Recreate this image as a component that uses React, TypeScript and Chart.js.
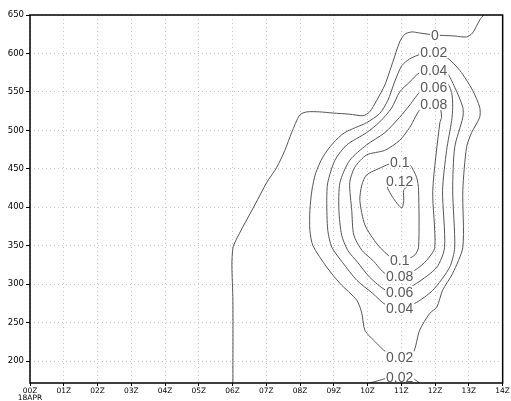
import React, { useEffect, useRef } from "react";
import { Chart, registerables } from "chart.js";

Chart.register(...registerables);

// x axis: hours after 00Z 18APR
const hourTicks = [0, 1, 2, 3, 4, 5, 6, 7, 8, 9, 10, 11, 12, 13, 14];
const hourLabels = ["00Z", "01Z", "02Z", "03Z", "04Z", "05Z", "06Z", "07Z", "08Z", "09Z", "10Z", "11Z", "12Z", "13Z", "14Z"];
const dateLabel = "18APR";
const yTicks = [200, 250, 300, 350, 400, 450, 500, 550, 600, 650];
const yMin = 171.4;
const yMax = 650;

// contour lines: [hour, value]
const contour0: [number, number][] = [
  [6.01, 171.4], [6.01, 279], [5.98, 325], [6.01, 347], [6.1, 357], [6.3, 374], [6.66, 403], [7.01, 432],
  [7.31, 452], [7.55, 474], [7.75, 497], [7.99, 520], [8.2, 524], [8.58, 524], [8.97, 522.5], [9.47, 521],
  [9.86, 519], [10.06, 524], [10.27, 539], [10.51, 559], [10.74, 588], [10.95, 615], [11.1, 625], [11.31, 628],
  [11.54, 626.6], [11.99, 624], [12.58, 622.7], [12.93, 621.4], [13.11, 626.6], [13.32, 643.5], [13.44, 650],
];
const contour002: [number, number][] = [
  [11.96, 602], [11.57, 599], [11.25, 593], [11.01, 584], [10.8, 563], [10.6, 539], [10.36, 522], [9.97, 510],
  [9.32, 497], [8.97, 483], [8.67, 465], [8.46, 444], [8.35, 422], [8.29, 396], [8.29, 370], [8.38, 350],
  [8.79, 322], [9.18, 301], [9.68, 279], [9.83, 262], [9.92, 240], [10.27, 223], [10.54, 212], [10.95, 205],
  [11.34, 210], [11.54, 240], [11.84, 262], [12.05, 270], [12.22, 292], [12.52, 314], [12.82, 348], [12.82, 422],
  [12.93, 478], [13.08, 497], [13.32, 517], [13.32, 530], [13.11, 552], [12.73, 578], [12.34, 595], [11.96, 602],
];
const contour004: [number, number][] = [
  [11.96, 578.5], [11.54, 575], [11.25, 563], [10.95, 550], [10.71, 529], [10.36, 511], [9.97, 497], [9.38, 481],
  [9.03, 461], [8.82, 432], [8.79, 409], [8.82, 370], [8.94, 348], [9.26, 328], [9.68, 305], [10.15, 288],
  [10.54, 273], [10.95, 269], [11.4, 275], [11.93, 292], [12.43, 322], [12.58, 348], [12.52, 422], [12.58, 478],
  [12.82, 517], [12.82, 530], [12.58, 556], [12.34, 575], [11.96, 578.5],
];
const contour006: [number, number][] = [
  [11.96, 556], [11.6, 552], [11.25, 533], [10.95, 517], [10.51, 497], [9.97, 481], [9.47, 461], [9.18, 432],
  [9.15, 396], [9.23, 364], [9.41, 344], [9.71, 328], [10.06, 309], [10.54, 292], [10.95, 290], [11.45, 301],
  [12.05, 322], [12.28, 348], [12.22, 422], [12.34, 474], [12.49, 513], [12.52, 530], [12.49, 549], [12.34, 562],
  [11.96, 556],
];
const contour008: [number, number][] = [
  [11.96, 534], [11.6, 530], [11.25, 504], [10.95, 487], [10.51, 474], [9.97, 468], [9.62, 452], [9.47, 432],
  [9.53, 396], [9.59, 364], [9.83, 344], [10.15, 331], [10.54, 313], [10.95, 310.5], [11.4, 318], [11.75, 331],
  [11.99, 348], [11.93, 422], [12.14, 510], [12.19, 517], [12.14, 530], [11.96, 534],
];
const contour010: [number, number][] = [
  [10.95, 459], [10.71, 457.5], [10.42, 452], [9.97, 442], [9.83, 429], [9.77, 409], [9.92, 377], [10.3, 351],
  [10.71, 334], [10.95, 331], [11.25, 334], [11.4, 338], [11.51, 348], [11.51, 422], [11.45, 439], [11.25, 455],
  [10.95, 459],
];
const contour012: [number, number][] = [
  [10.95, 434], [10.57, 430], [10.74, 413], [11.01, 399], [11.07, 409], [11.07, 422], [11.25, 431.5], [10.95, 434],
];
const contour002low: [number, number][] = [
  [10.06, 171.4], [10.36, 175], [10.6, 178], [10.95, 179], [11.31, 178], [11.54, 171.4],
];

const contours = [contour0, contour002, contour004, contour006, contour008, contour010, contour012, contour002low];

// contour labels
const labelTexts = ["0", "0.02", "0.04", "0.06", "0.08", "0.1", "0.12", "0.1", "0.08", "0.06", "0.04", "0.02", "0.02"];
const labelHours = [11.99, 11.96, 11.96, 11.96, 11.96, 10.95, 10.95, 10.95, 10.95, 10.95, 10.95, 10.95, 10.95];
const labelValues = [624, 602, 578.5, 556, 534, 459, 434, 331, 310.5, 290, 269, 205, 179];

const contourLabelPlugin = {
  id: "contourLabels",
  afterDatasetsDraw(chart: any) {
    const { ctx, scales, chartArea } = chart;
    ctx.save();
    ctx.beginPath();
    ctx.rect(chartArea.left, chartArea.top, chartArea.right - chartArea.left, chartArea.bottom - chartArea.top);
    ctx.clip();
    ctx.font = '14px "Liberation Sans"';
    ctx.textAlign = "center";
    ctx.textBaseline = "middle";
    labelTexts.forEach((t, i) => {
      const px = scales.x.getPixelForValue(labelHours[i]);
      const py = scales.y.getPixelForValue(labelValues[i]);
      const w = ctx.measureText(t).width;
      ctx.fillStyle = "#ffffff";
      ctx.fillRect(px - w / 2 - 1, py - 6, w + 2, 12);
      ctx.fillStyle = "#5a5a5a";
      ctx.fillText(t, px, py + 1);
    });
    ctx.restore();
  },
};

const framePlugin = {
  id: "frame",
  afterDraw(chart: any) {
    const { ctx, chartArea, scales } = chart;
    ctx.save();
    ctx.strokeStyle = "#000000";
    ctx.lineWidth = 1.5;
    ctx.setLineDash([]);
    ctx.strokeRect(chartArea.left, chartArea.top, chartArea.right - chartArea.left, chartArea.bottom - chartArea.top);
    // date label under the first time tick
    ctx.fillStyle = "#000000";
    ctx.font = '7.5px "DejaVu Sans"';
    ctx.textAlign = "center";
    ctx.textBaseline = "top";
    ctx.fillText(dateLabel, scales.x.getPixelForValue(hourTicks[0]), chartArea.bottom + 11);
    ctx.restore();
  },
};

export default function App() {
  const ref = useRef<HTMLCanvasElement | null>(null);
  useEffect(() => {
    if (!ref.current) return;
    const chart = new Chart(ref.current, {
      type: "scatter",
      data: {
        datasets: contours.map((c) => ({
          data: c.map(([x, y]) => ({ x, y })),
          showLine: true,
          borderColor: "#555555",
          borderWidth: 1,
          pointRadius: 0,
          tension: 0.25,
          fill: false,
        })),
      },
      options: {
        animation: false,
        responsive: false,
        devicePixelRatio: 1,
        layout: { padding: { top: 15, right: 8, left: 0, bottom: 0 } },
        plugins: { legend: { display: false }, tooltip: { enabled: false } },
        events: [],
        scales: {
          x: {
            type: "linear",
            min: 0,
            max: 14,
            afterBuildTicks: (axis: any) => {
              axis.ticks = hourTicks.map((v) => ({ value: v }));
            },
            afterFit: (axis: any) => {
              axis.height = 18;
            },
            ticks: {
              autoSkip: false,
              maxRotation: 0,
              padding: 1,
              color: "#000000",
              font: { family: "DejaVu Sans", size: 7.5 },
              callback: (v: any) => hourLabels[hourTicks.indexOf(Number(v))],
            },
            grid: {
              color: "#c8c8c8",
              lineWidth: 1,
              drawTicks: true,
              tickLength: 3,
              tickColor: "#000000",
              tickBorderDash: [],
            },
            border: { display: false, dash: [1, 3] },
          },
          y: {
            type: "linear",
            min: yMin,
            max: yMax,
            afterBuildTicks: (axis: any) => {
              axis.ticks = yTicks.map((v) => ({ value: v }));
            },
            afterFit: (axis: any) => {
              axis.width = 30;
            },
            ticks: {
              padding: 2,
              color: "#000000",
              font: { family: "DejaVu Sans", size: 8.5 },
              callback: (v: any) => String(v),
            },
            grid: {
              color: "#c8c8c8",
              lineWidth: 1,
              drawTicks: true,
              tickLength: 4,
              tickColor: "#000000",
              tickBorderDash: [],
            },
            border: { display: false, dash: [1, 3] },
          },
        },
      },
      plugins: [contourLabelPlugin, framePlugin],
    } as any);
    return () => chart.destroy();
  }, []);
  return (
    <div style={{ position: "fixed", left: 0, top: 0, width: 511, height: 401, background: "#fff" }}>
      <canvas ref={ref} width={511} height={401} style={{ width: 511, height: 401, display: "block" }} />
    </div>
  );
}
